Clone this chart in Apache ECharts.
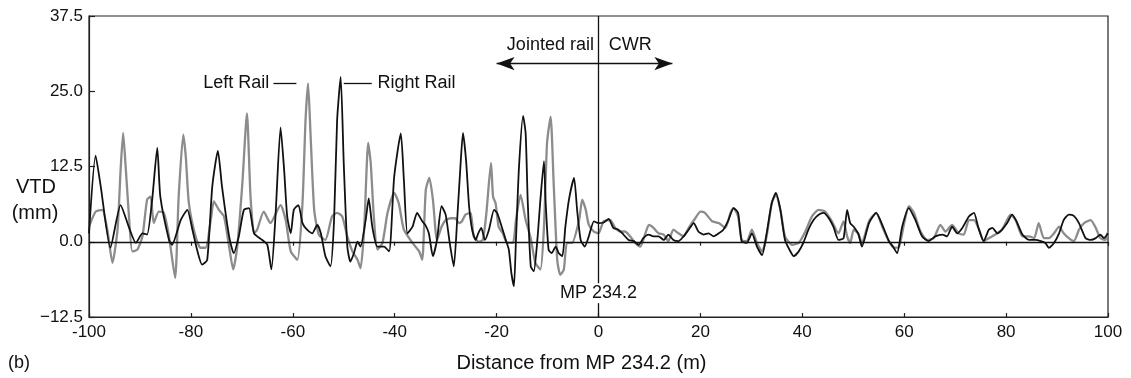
<!DOCTYPE html>
<html>
<head>
<meta charset="utf-8">
<script src="https://cdn.jsdelivr.net/npm/echarts@6/dist/echarts.min.js"></script>
<style>
html, body { margin: 0; padding: 0; background: #fff; }
#chart { width: 1131px; height: 378px; }
</style>
</head>
<body>
<div id="chart"></div>
<script>
// right rail (black trace)
const rightX = [-100, -98.7, -97.7, -95.8, -93.8, -92.2, -90.8, -89.5, -88.6, -87.6, -86.6, -86.0, -84.3, -83.7, -82.0, -80.7, -79.7, -78.8, -77.8, -76.8,
  -75.8, -74.7, -73.9, -72.5, -71.6, -70.6, -69.6, -68.6, -67.6, -66.0, -65.0, -64.2, -63.4, -62.4, -61.7, -61.1, -60.4, -59.8, -58.9, -58.1,
  -57.2, -56.2, -55.2, -54.5, -53.6, -52.6, -51.9, -51.3, -50.6, -50.0, -49.3, -48.7, -48.0, -47.3, -46.7, -45.7, -45.1, -44.4, -43.4, -42.1,
  -41.1, -40.1, -38.8, -38.2, -37.5, -36.5, -35.6, -34.6, -34.0, -33.3, -32.5, -31.7, -30.8, -30.0, -29.2, -28.4, -27.7, -27.1, -26.6, -26.0,
  -25.4, -24.8, -24.1, -23.6, -23.0, -22.3, -21.5, -20.5, -19.9, -19.0, -18.2, -17.6, -17.1, -16.6, -16.2, -15.6, -14.8, -14.3, -13.9, -13.3,
  -12.7, -12.0, -11.4, -10.7, -10.4, -9.8, -9.2, -8.4, -7.8, -7.1, -6.5, -5.8, -4.8, -4.2, -3.5, -2.7, -1.9, -0.9, 0, 1.0,
  2.0, 2.9, 3.9, 4.9, 5.9, 6.9, 7.9, 8.8, 9.8, 10.8, 11.8, 12.8, 13.7, 14.7, 15.7, 16.7, 17.7, 18.7, 19.6, 20.6,
  21.6, 22.6, 23.6, 24.5, 25.5, 26.5, 27.4, 28.1, 29.1, 30.1, 31.1, 32.1, 33.0, 34.0, 34.8, 35.7, 36.6, 37.6, 38.3, 39.3,
  40.2, 41.2, 42.2, 43.2, 44.2, 45.2, 46.1, 47.1, 48.1, 48.8, 49.4, 50.1, 51.0, 51.7, 53.1, 54.5, 55.7, 57.0, 57.8, 58.6,
  59.6, 60.9, 62.2, 63.5, 64.8, 66.1, 67.5, 68.4, 69.4, 70.4, 71.4, 72.7, 73.7, 74.5, 75.6, 76.6, 77.3, 78.3, 79.2, 80.2,
  81.2, 82.2, 83.2, 84.5, 85.8, 86.8, 87.7, 88.4, 89.4, 90.4, 91.3, 92.3, 93.3, 94.3, 95.6, 96.6, 97.6, 98.5, 99.2, 100];
const rightY = [1.4, 14.3, 9.2, -1.0, 6.1, 2.5, -0.2, 1.4, 1.2, 7.0, 15.6, 7.5, 0.3, -0.5, 3.6, 5.3, 2.0, -1.3, -3.8, -3.0,
  9.2, 15.1, 9.2, 0.9, -1.9, 0.9, 5.3, 5.6, 1.4, 0.3, -0.5, -4.6, 4.2, 19.0, 11.9, 4.2, 1.4, 5.3, 6.1, 3.1,
  2.0, 1.4, 2.8, 1.4, -2.4, -4.1, 3.6, 20.2, 27.4, 13.0, -0.8, -3.3, -1.9, 0, -0.8, 3.6, 7.2, 2.5, -0.8, -0.8,
  -1.6, 10.8, 18.0, 10.3, 1.4, 2.5, 4.8, 3.4, 2.8, 1.4, -2.4, 0.3, 5.9, 4.5, -0.2, -4.1, 4.2, 12.5, 18.1, 13.6,
  5.9, 2.0, 0.3, 1.4, 2.3, 0.3, 2.0, 5.3, 4.8, 2.5, 0.3, -1.3, -5.2, -7.4, 0.3, 12.5, 20.9, 18.0, 7.0, -4.1,
  -4.9, 0.3, 7.0, 13.4, 7.0, -1.3, -1.9, -0.8, -1.9, -2.4, 2.5, 7.0, 10.6, 5.3, 0.3, -0.8, 0.9, 3.4, 3.1, 3.2,
  3.8, 2.3, 2.0, 1.2, 0.3, 0.1, -0.5, 0.6, 1.2, 0.9, 0.9, 0.3, 1.2, 0.3, 0.1, 0.9, 2.0, 3.1, 1.7, 1.2,
  1.4, 0.9, 1.4, 2.0, 3.6, 5.6, 4.8, 0.1, -0.2, 1.4, -0.8, -2.2, 1.4, 6.4, 8.1, 5.3, 0.3, -1.5, -2.4, -1.6,
  -0.2, 2.0, 3.6, 4.5, 4.8, 3.9, 2.5, 0.3, 0.6, 5.3, 3.1, 2.5, 1.3, -0.8, 3.1, 4.8, 2.8, 0.1, -0.8, -1.9,
  2.5, 5.6, 3.6, 0.9, 0.1, 0.9, 1.2, 0.9, 2.5, 1.4, 2.3, 4.2, 4.8, 2.5, 0.1, 2.0, 2.3, 1.4, 2.0, 3.1,
  4.5, 3.1, 1.2, 0.3, 0.3, 0.1, -0.2, -1.0, -0.2, 1.4, 3.6, 4.5, 4.3, 3.1, 0.6, 0.3, 0.6, 1.2, 0.6, 1.4];

// left rail (grey trace)
const leftX = [-100, -98.7, -97.4, -96.4, -95.4, -94.4, -93.8, -93.3, -92.8, -92.2, -91.5, -90.5, -89.5, -88.6, -87.9, -87.3, -86.3, -85.3, -84.3, -83.1,
  -82.4, -81.5, -81.0, -80.4, -79.1, -78.1, -77.1, -76.1, -75.5, -74.5, -73.5, -72.5, -71.7, -70.9, -69.9, -69.0, -68.3, -67.6, -67.0, -65.7,
  -64.4, -62.4, -61.4, -60.4, -59.1, -58.1, -57.5, -57.0, -56.5, -55.8, -54.9, -53.6, -52.3, -51.3, -50.3, -49.3, -48.3, -47.3, -46.7, -46.0,
  -45.2, -44.7, -44.1, -43.4, -42.4, -41.4, -40.1, -39.2, -38.2, -36.5, -35.2, -34.6, -33.9, -33.2, -32.5, -31.7, -30.8, -30.0, -29.0, -28.1,
  -27.4, -26.8, -26.1, -25.1, -24.5, -23.5, -22.7, -22.0, -21.1, -20.7, -20.2, -19.6, -18.8, -17.9, -16.8, -16.2, -15.3, -14.3, -13.3, -12.4,
  -11.4, -10.7, -10.1, -9.4, -8.8, -8.1, -7.5, -6.8, -6.2, -5.2, -3.8, -3.2, -2.5, -1.9, -0.9, 0, 1.0, 2.3, 3.3, 4.3,
  5.2, 6.2, 7.2, 8.2, 9.2, 9.9, 10.8, 11.8, 12.8, 13.7, 14.7, 15.7, 16.7, 17.7, 19.0, 20.0, 20.9, 22.3, 23.6, 24.9,
  25.9, 26.5, 27.4, 28.1, 29.1, 30.1, 31.1, 32.1, 33.0, 34.0, 34.8, 35.7, 36.6, 38.0, 39.3, 40.6, 41.9, 43.2, 44.5, 45.8,
  47.1, 48.1, 48.8, 49.4, 50.1, 51.0, 51.7, 53.1, 54.5, 55.7, 57.0, 58.0, 59.0, 60.0, 60.9, 61.9, 63.2, 64.5, 65.8, 67.1,
  68.1, 69.4, 70.7, 71.7, 72.7, 73.7, 74.7, 75.6, 76.6, 77.9, 79.2, 80.9, 81.9, 83.2, 84.5, 85.5, 86.4, 87.4, 88.4, 89.4,
  90.4, 91.3, 92.3, 93.3, 94.3, 95.3, 96.6, 97.6, 98.5, 99.5, 100];
const leftY = [2.5, 5.0, 5.3, 2.0, -3.5, 2.0, 11.9, 18.1, 12.4, 4.8, -1.6, -1.3, 0.9, 7.0, 7.5, 3.1, 5.0, 4.8, 0.9, -6.0,
  7.5, 17.8, 14.1, 6.4, 0.9, -1.0, -1.0, 3.6, 6.7, 5.3, 4.2, -0.8, -4.6, -0.8, 9.7, 21.3, 7.5, 1.4, 2.0, 5.0,
  3.1, 6.1, 3.6, -1.6, -3.0, 6.4, 20.2, 26.3, 17.5, 5.3, 1.2, 0.3, 4.2, 4.8, 4.2, 0.9, -1.6, -3.0, -4.4, 2.0,
  16.4, 13.0, 4.2, -1.3, -0.2, 4.8, 8.1, 6.4, 2.0, -0.2, -1.6, -3.0, 8.6, 10.6, 7.0, 0.3, 2.5, 3.6, 3.9, 3.9,
  3.1, 3.4, 4.5, 4.8, 0.9, 0, 0.3, 4.8, 13.1, 7.5, 6.4, 2.5, 1.4, -0.2, -0.2, 3.6, 7.8, 3.6, 0.6, -3.5,
  -4.6, 2.5, 16.4, 20.8, 9.7, -3.0, -5.5, -4.6, -0.2, -0.2, 3.6, 7.0, 5.3, 2.8, 1.7, 1.4, 3.4, 3.6, 2.3, 1.7,
  1.7, 0.9, -0.2, -0.8, 1.4, 2.8, 2.3, 1.4, 1.2, 0.1, 2.0, 1.4, 0.9, 2.3, 3.9, 5.0, 4.8, 3.4, 3.1, 2.3,
  4.8, 5.6, 4.2, 0.3, 0.1, 2.0, -0.2, -1.6, 0.9, 6.4, 7.8, 5.3, 0.9, -0.5, -0.2, 1.7, 4.2, 5.3, 5.0, 3.4,
  1.4, 3.4, 0.9, -0.2, 2.0, 1.3, -0.2, 3.4, 4.8, 2.5, 0.1, -1.0, -0.8, 3.1, 5.9, 4.8, 1.7, 0.3, 0.6, 2.8,
  1.7, 2.8, 1.4, 1.2, 3.6, 3.6, 2.0, 0.1, 0.6, 1.2, 2.0, 4.5, 3.6, 0.9, 0.9, 0.6, 3.1, 0.6, 0.6, 1.4,
  2.5, 1.4, 0.6, 0.1, 2.0, 3.1, 3.6, 2.3, 0.6, 0.3, 1.7];

const xMin = -100, xMax = 100, xStep = 20;
const yMin = -12.5, yMax = 37.5, yStep = 12.5;

function pairs(xs, ys) {
  return xs.map((x, i) => [x, ys[i]]);
}

const font = 'Liberation Sans, Arial, sans-serif';
const chart = echarts.init(document.getElementById('chart'));

const option = {
  animation: false,
  backgroundColor: '#fff',
  textStyle: { fontFamily: font },
  grid: {
    left: 89, right: 23, top: 16, bottom: 61,
    show: true, borderColor: '#222', borderWidth: 1.2, backgroundColor: 'transparent'
  },
  xAxis: [{
    type: 'value', min: xMin, max: xMax, interval: xStep,
    axisLine: { show: true, onZero: false, lineStyle: { color: '#222', width: 1.2 } },
    axisTick: { show: true, inside: true, length: 4, lineStyle: { color: '#222', width: 1.2 } },
    axisLabel: { color: '#111', fontSize: 17, margin: 7, fontFamily: font },
    splitLine: { show: false },
    name: 'Distance from MP 234.2 (m)', nameLocation: 'middle', nameGap: 36,
    nameTextStyle: { color: '#111', fontSize: 20, fontFamily: font, padding: [0, 34, 0, 0] }
  }, {
    type: 'value', min: xMin, max: xMax, interval: xStep, position: 'bottom',
    axisLine: { show: false },
    axisTick: { show: true, inside: false, length: 4, lineStyle: { color: '#222', width: 1.2 } },
    axisLabel: { show: false }, splitLine: { show: false }
  }],
  yAxis: {
    type: 'value', min: yMin, max: yMax, interval: yStep,
    axisLine: { show: true, onZero: false, lineStyle: { color: '#222', width: 1.2 } },
    axisTick: { show: true, inside: true, length: 6, lineStyle: { color: '#222', width: 1.2 } },
    axisLabel: {
      color: '#111', fontSize: 17, margin: 6, fontFamily: font,
      formatter: v => (v < 0 ? '\u2212' : '') + Math.abs(v).toFixed(1)
    },
    splitLine: { show: false }
  },
  series: [{
    name: 'Left Rail', type: 'line', data: pairs(leftX, leftY),
    showSymbol: false, smooth: 0.2, z: 2,
    lineStyle: { color: '#8c8c8c', width: 2.3 }
  }, {
    name: 'Right Rail', type: 'line', data: pairs(rightX, rightY),
    showSymbol: false, smooth: 0.2, z: 3,
    lineStyle: { color: '#111', width: 1.8 },
    markLine: {
      silent: true, symbol: 'none', animation: false,
      label: { show: false },
      lineStyle: { color: '#111', width: 1.3, type: 'solid' },
      data: [
        [{ coord: [xMin, 0] }, { coord: [xMax, 0] }],
        [{ coord: [0, -6.9] }, { coord: [0, yMax] }],
        [{ coord: [0, -10.2] }, { coord: [0, yMin] }],
        [{ coord: [-63.8, 26.3] }, { coord: [-59.3, 26.3] }],
        [{ coord: [-50.0, 26.3] }, { coord: [-44.5, 26.3] }],
        [{ coord: [0, 29.6] }, { coord: [-20.0, 29.6], symbol: 'arrow', symbolSize: [10, 18] }],
        [{ coord: [0, 29.6] }, { coord: [14.5, 29.6], symbol: 'arrow', symbolSize: [10, 18] }]
      ]
    }
  }]
};
chart.setOption(option);

function at(x, y) {
  return chart.convertToPixel({ xAxisIndex: 0, yAxisIndex: 0 }, [x, y]);
}
function label(text, p, align, size) {
  return {
    type: 'text', x: p[0], y: p[1], silent: true,
    style: { text: text, fill: '#111', font: size + 'px ' + font, textAlign: align, textVerticalAlign: 'middle' }
  };
}

chart.setOption({
  graphic: [
    label('Left Rail', at(-64.6, 26.3), 'right', 18),
    label('Right Rail', at(-43.4, 26.3), 'left', 18),
    label('Jointed rail', at(-0.9, 32.6), 'right', 18),
    label('CWR', at(2.0, 32.6), 'left', 18),
    label('MP 234.2', at(0, -8.6), 'center', 18),
    label('VTD', [36, 187], 'center', 20),
    label('(mm)', [35, 213], 'center', 20),
    label('(b)', [8, 363], 'left', 18)
  ]
});
</script>
</body>
</html>
